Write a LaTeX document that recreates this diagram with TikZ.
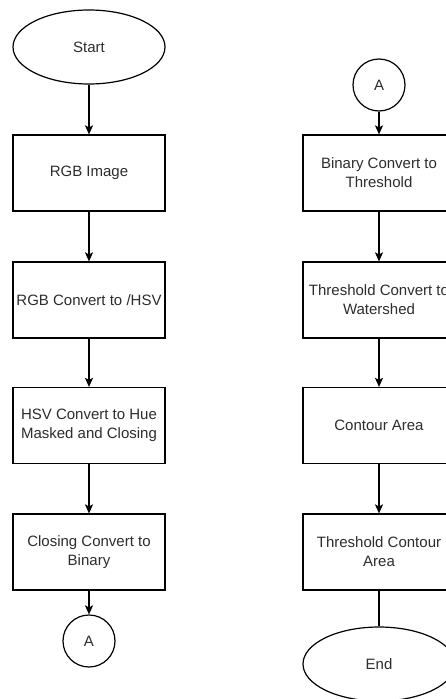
\documentclass[tikz,border=0pt]{standalone}
\usepackage{fontspec}
\setmainfont{Liberation Sans}
\usetikzlibrary{shapes.geometric,arrows.meta}
\definecolor{txt}{RGB}{45,45,45}
\tikzset{
  box/.style={draw=black, line width=1.2pt, rectangle, minimum width=152pt, minimum height=76pt, inner sep=1pt, align=center, text=txt, font=\fontsize{15}{19}\selectfont},
  term/.style={draw=black, line width=1.2pt, ellipse, minimum width=152pt, minimum height=74pt, inner sep=0pt, text=txt, font=\fontsize{15}{19}\selectfont},
  conn/.style={draw=black, line width=1.2pt, circle, minimum size=52pt, inner sep=0pt, text=txt, font=\fontsize{15}{19}\selectfont},
  arr/.style={line width=1.2pt, -{Stealth[length=9pt,width=8pt,inset=2pt]}},
  ln/.style={line width=1.2pt}
}
\begin{document}
\begin{tikzpicture}[x=1pt,y=-1pt]
\clip (0,0) rectangle (446,699);
\fill[white] (0,0) rectangle (446,699);
% left column
\node[term] (start) at (89,47) {Start};
\node[box] (rgb) at (89,173) {RGB Image};
\node[box] (rgbhsv) at (89,300) {RGB Convert to /HSV};
\node[box] (hsv) at (89,425.5) {HSV Convert to Hue\\Masked and Closing};
\node[box] (closing) at (89,552) {Closing Convert to\\Binary};
\node[conn] (a1) at (89,641) {A};
% right column
\node[conn] (a2) at (379,85) {A};
\node[box] (bin) at (379,173) {Binary Convert to\\Threshold};
\node[box] (thr) at (379,300) {Threshold Convert to\\Watershed};
\node[box] (cont) at (379,425.5) {Contour Area};
\node[box] (tcont) at (379,552) {Threshold Contour\\Area};
\node[term] (end) at (379,664) {End};
% connectors
\draw[arr] (start) -- (rgb);
\draw[arr] (rgb) -- (rgbhsv);
\draw[arr] (rgbhsv) -- (hsv);
\draw[arr] (hsv) -- (closing);
\draw[arr] (closing) -- (a1);
\draw[arr] (a2) -- (bin);
\draw[arr] (bin) -- (thr);
\draw[arr] (thr) -- (cont);
\draw[arr] (cont) -- (tcont);
\draw[ln] (tcont) -- (end);
\end{tikzpicture}
\end{document}
